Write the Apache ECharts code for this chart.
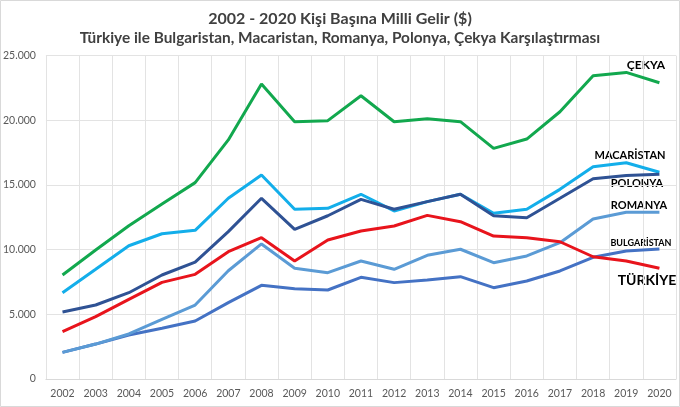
<!DOCTYPE html>
<html><head><meta charset="utf-8">
<script src="https://cdn.jsdelivr.net/npm/echarts@6/dist/echarts.min.js"></script>
<style>html,body{margin:0;padding:0;background:#fff}#c{width:680px;height:407px}</style>
</head><body><div id="c"></div>
<script>
const years = ['2002','2003','2004','2005','2006','2007','2008','2009','2010','2011','2012','2013','2014','2015','2016','2017','2018','2019','2020'];
const cekya = [8040,9970,11850,13530,15180,18480,22800,19890,19970,21900,19890,20120,19890,17830,18550,20660,23450,23700,22900];
const macaristan = [6670,8480,10300,11230,11490,13970,15770,13120,13190,14280,12990,13710,14280,12810,13120,14660,16410,16720,15980];
const polonya = [5180,5720,6670,8040,9040,11390,13970,11570,12620,13890,13120,13710,14280,12620,12470,13970,15480,15740,15820];
const romanya = [2060,2700,3480,4610,5720,8370,10440,8560,8220,9120,8480,9560,10030,8990,9510,10540,12370,12890,12890];
const bulgaristan = [2060,2700,3400,3920,4480,5900,7240,6980,6880,7860,7450,7650,7910,7060,7580,8350,9410,9890,10050];
const turkiye = [3660,4820,6160,7470,8090,9840,10920,9120,10740,11440,11830,12650,12160,11050,10920,10610,9450,9120,8560];
const yTicks = [0,5000,10000,15000,20000,25000];

const chart = echarts.init(document.getElementById('c'));
const mk = (name, data, color, z) => ({
  name, type: 'line', data, symbol: 'none', z,
  lineStyle: { width: 3, color }, itemStyle: { color }
});
const fontFam = 'Lato, "Open Sans", sans-serif';
chart.setOption({
  animation: false,
  title: [
    { text: '2002 - 2020 Kişi Başına Milli Gelir ($)', left: 'center', top: 6,
      textStyle: { fontFamily: fontFam, fontSize: 16, fontWeight: 'bold', color: '#404040' } },
    { text: 'Türkiye ile Bulgaristan, Macaristan, Romanya, Polonya, Çekya Karşılaştırması', left: 'center', top: 26,
      textStyle: { fontFamily: fontFam, fontSize: 15.4, fontWeight: 'bold', color: '#404040' } }
  ],
  grid: { left: 37, right: 4, top: 55.6, bottom: 28 },
  xAxis: {
    type: 'category', data: years, boundaryGap: true,
    axisLine: { show: true, lineStyle: { color: '#d9d9d9' } },
    axisTick: { show: false },
    splitLine: { show: true, lineStyle: { color: '#e3e3e3', width: 1 } },
    axisLabel: { color: '#595959', fontSize: 10.5, fontFamily: fontFam, margin: 9, interval: 0 }
  },
  yAxis: {
    type: 'value', min: 0, max: 25000, interval: 5000,
    axisLine: { show: false }, axisTick: { show: false },
    splitLine: { lineStyle: { color: '#e3e3e3', width: 1 } },
    axisLabel: { color: '#595959', fontSize: 10.5, fontFamily: fontFam, margin: 10,
      formatter: v => yTicks.includes(v) ? String(v).replace(/\B(?=(\d{3})+(?!\d))/g, '.') : '' }
  },
  series: [
    mk('Bulgaristan', bulgaristan, '#4472c4', 2),
    mk('Romanya', romanya, '#5b9bd5', 3),
    mk('Türkiye', turkiye, '#e8141c', 4),
    mk('Polonya', polonya, '#2f5294', 5),
    mk('Macaristan', macaristan, '#13aeea', 4),
    mk('Çekya', cekya, '#12a84e', 6)
  ],
  graphic: [
    { type: 'rect', shape: { x: 0.5, y: 0.5, width: 679, height: 406 }, style: { fill: 'none', stroke: '#d9d9d9', lineWidth: 1 }, z: -1 },
    { type: 'text', x: 646, y: 65, style: { text: 'ÇEKYA', font: 'bold 12px ' + fontFam, fill: '#000', align: 'center', verticalAlign: 'middle' } },
    { type: 'text', x: 630, y: 155, style: { text: 'MACARİSTAN', font: 'bold 11px ' + fontFam, fill: '#000', align: 'center', verticalAlign: 'middle' } },
    { type: 'text', x: 637, y: 183, style: { text: 'POLONYA', font: 'bold 11px ' + fontFam, fill: '#000', align: 'center', verticalAlign: 'middle' } },
    { type: 'text', x: 639, y: 205, style: { text: 'ROMANYA', font: 'bold 11px ' + fontFam, fill: '#000', align: 'center', verticalAlign: 'middle' } },
    { type: 'text', x: 641, y: 243, style: { text: 'BULGARİSTAN', font: 'bold 9px ' + fontFam, fill: '#000', align: 'center', verticalAlign: 'middle' } },
    { type: 'text', x: 647, y: 280, style: { text: 'TÜRKİYE', font: 'bold 14px ' + fontFam, fill: '#000', align: 'center', verticalAlign: 'middle' } }
  ]
});
</script></body></html>
